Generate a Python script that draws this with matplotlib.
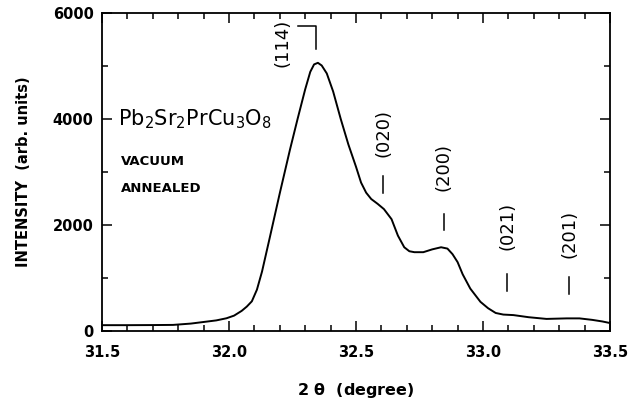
import matplotlib
matplotlib.use("Agg")
import matplotlib.pyplot as plt
from matplotlib.ticker import MultipleLocator, FormatStrFormatter

# XRD profile (2theta in degree, intensity arb. units)
two_theta = [31.50, 31.60, 31.70, 31.78, 31.85, 31.90, 31.95, 31.99, 32.02, 32.05,
             32.07, 32.09, 32.11, 32.13, 32.16, 32.20, 32.24, 32.27, 32.30, 32.32,
             32.335, 32.35, 32.365, 32.385, 32.41, 32.44, 32.47, 32.50, 32.52, 32.54,
             32.56, 32.585, 32.61, 32.64, 32.665, 32.69, 32.71, 32.73, 32.765, 32.80,
             32.835, 32.86, 32.88, 32.90, 32.92, 32.95, 32.99, 33.02, 33.05, 33.08,
             33.12, 33.18, 33.25, 33.33, 33.38, 33.43, 33.47, 33.50]
intensity = [110, 110, 112, 115, 140, 170, 200, 240, 290, 380,
             460, 560, 780, 1120, 1750, 2600, 3420, 4000, 4560, 4890,
             5030, 5060, 5010, 4860, 4520, 4000, 3520, 3100, 2800, 2610,
             2490, 2400, 2300, 2110, 1800, 1580, 1505, 1487, 1487, 1540,
             1580, 1555, 1450, 1300, 1070, 800, 550, 430, 340, 310,
             300, 260, 228, 238, 238, 210, 180, 150]

peak_labels = ["(020)", "(200)", "(021)", "(201)"]
peak_pos = [32.607, 32.845, 33.096, 33.340]
peak_mark_y = [(2600, 2920), (1910, 2210), (760, 1080), (700, 1020)]
peak_text_y = [3740, 3100, 1990, 1830]

plt.rcParams["font.family"] = ["DejaVu Sans"]
plt.rcParams["mathtext.default"] = "regular"

fig = plt.figure(figsize=(6.39, 4.04), dpi=100)
fig.patch.set_facecolor("white")
ax = fig.add_axes([0.1596, 0.1807, 0.7950, 0.7871])

ax.plot(two_theta, intensity, color="black", lw=1.4)

ax.set_xlim(31.5, 33.5)
ax.set_ylim(0, 6000)
ax.xaxis.set_major_locator(MultipleLocator(0.5))
ax.xaxis.set_minor_locator(MultipleLocator(0.1))
ax.yaxis.set_major_locator(MultipleLocator(2000))
ax.yaxis.set_minor_locator(MultipleLocator(1000))
ax.xaxis.set_major_formatter(FormatStrFormatter("%.1f"))
ax.tick_params(which="both", direction="in", top=True, right=True, width=1.1,
               labelsize=10.5)
ax.tick_params(axis="x", pad=10)
ax.tick_params(axis="y", pad=6)
ax.tick_params(which="major", length=7)
ax.tick_params(which="minor", length=4)
for lab in ax.get_xticklabels() + ax.get_yticklabels():
    lab.set_fontweight("bold")
for s in ax.spines.values():
    s.set_linewidth(1.3)

ax.set_xlabel("2 $\\theta$  (degree)", fontsize=11.5, fontweight="bold", labelpad=15)
ax.set_ylabel("INTENSITY  (arb. units)", fontsize=10.5, fontweight="bold", labelpad=16)

# (114) bracket label at the main peak
ax.text(32.21, 5430, "(114)", rotation=90, ha="center", va="center", fontsize=13)
ax.plot([32.27, 32.341, 32.341], [5760, 5760, 5330], color="black", lw=1.1)

for lab, x, (y0, y1), ty in zip(peak_labels, peak_pos, peak_mark_y, peak_text_y):
    ax.plot([x, x], [y0, y1], color="black", lw=1.1)
    ax.text(x, ty, lab, rotation=90, ha="center", va="center", fontsize=13)

ax.text(31.565, 4000, "Pb$_2$Sr$_2$PrCu$_3$O$_8$", fontsize=15, va="center")
ax.text(31.575, 3200, "VACUUM", fontsize=9.5, fontweight="bold", va="center")
ax.text(31.575, 2680, "ANNEALED", fontsize=9.5, fontweight="bold", va="center")

fig.savefig("out.png", dpi=100)
